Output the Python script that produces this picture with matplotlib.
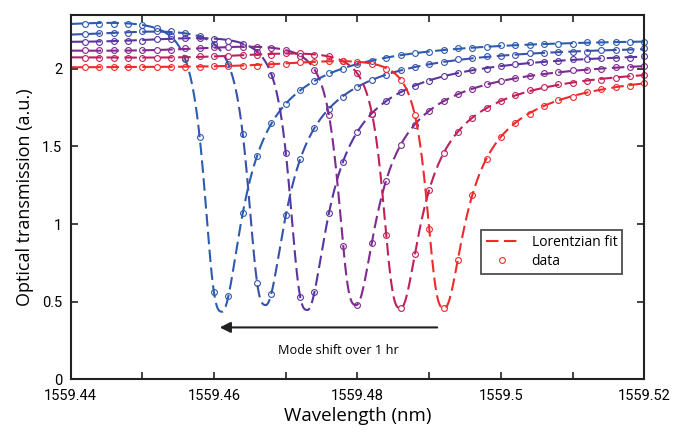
import numpy as np
import matplotlib
matplotlib.use("Agg")
import matplotlib.pyplot as plt
from matplotlib.ticker import MultipleLocator, FixedLocator
from matplotlib.lines import Line2D

plt.rcParams['font.family'] = ['Open Sans', 'DejaVu Sans']

# ---------------- values ----------------
# measured transmission samples (one list per scan, blue = first, red = last)
sample_x = [round(1559.442 + 0.002 * i, 3) for i in range(40)]
scan_1 = [2.29, 2.29, 2.29, 2.29, 2.28, 2.26, 2.21, 2.06, 1.56, 0.56, 0.54, 1.07, 1.44, 1.65, 1.77, 1.86, 1.92, 1.97, 2.00, 2.03,
          2.05, 2.07, 2.09, 2.10, 2.11, 2.12, 2.13, 2.13, 2.14, 2.15, 2.15, 2.15, 2.16, 2.16, 2.16, 2.17, 2.17, 2.17, 2.17, 2.17]
scan_2 = [2.22, 2.23, 2.23, 2.23, 2.24, 2.24, 2.24, 2.23, 2.21, 2.16, 2.03, 1.58, 0.62, 0.55, 1.06, 1.42, 1.62, 1.74, 1.82, 1.88,
          1.93, 1.96, 1.99, 2.01, 2.03, 2.04, 2.06, 2.07, 2.08, 2.08, 2.09, 2.10, 2.10, 2.11, 2.11, 2.11, 2.12, 2.12, 2.12, 2.13]
scan_3 = [2.17, 2.17, 2.18, 2.18, 2.18, 2.19, 2.19, 2.20, 2.20, 2.19, 2.18, 2.16, 2.11, 1.96, 1.46, 0.53, 0.56, 1.07, 1.40, 1.59,
          1.71, 1.79, 1.85, 1.89, 1.92, 1.95, 1.97, 1.99, 2.00, 2.02, 2.03, 2.04, 2.04, 2.05, 2.06, 2.06, 2.07, 2.07, 2.07, 2.08]
scan_4 = [2.12, 2.12, 2.12, 2.12, 2.12, 2.12, 2.12, 2.13, 2.13, 2.14, 2.14, 2.14, 2.14, 2.13, 2.12, 2.08, 1.99, 1.70, 0.86, 0.48,
          0.88, 1.28, 1.51, 1.64, 1.73, 1.79, 1.84, 1.87, 1.90, 1.92, 1.94, 1.95, 1.97, 1.98, 1.99, 1.99, 2.00, 2.01, 2.01, 2.02]
scan_5 = [2.07, 2.07, 2.07, 2.07, 2.07, 2.07, 2.07, 2.07, 2.08, 2.08, 2.08, 2.09, 2.09, 2.09, 2.10, 2.10, 2.09, 2.08, 2.05, 1.97,
          1.71, 0.93, 0.46, 0.81, 1.22, 1.46, 1.59, 1.68, 1.75, 1.79, 1.83, 1.86, 1.88, 1.90, 1.91, 1.92, 1.93, 1.94, 1.95, 1.96]
scan_6 = [2.01, 2.01, 2.01, 2.01, 2.01, 2.01, 2.01, 2.01, 2.01, 2.02, 2.02, 2.02, 2.02, 2.03, 2.03, 2.04, 2.04, 2.05, 2.05, 2.04,
          2.03, 2.00, 1.93, 1.70, 0.97, 0.46, 0.77, 1.19, 1.42, 1.56, 1.65, 1.71, 1.76, 1.80, 1.82, 1.85, 1.87, 1.88, 1.89, 1.91]
scans = [scan_1, scan_2, scan_3, scan_4, scan_5, scan_6]

# fitted resonance parameters per scan
X0 = 1559.44
centers = [1559.4611, 1559.4672, 1559.4730, 1559.4798, 1559.4860, 1559.4921]
minima = [0.436, 0.479, 0.447, 0.479, 0.458, 0.458]
base_left = [2.267, 2.2115, 2.171, 2.116, 2.073, 2.009]
base_slope = [-0.47, -0.33, -0.31, -0.25, -0.225, 0.2]
colors = ['#2a5cb0', '#3752ab', '#5a34a0', '#7e2a8e', '#c0205a', '#ee2b2b']

# shared line-shape parameters of the fit
gamma_left = 0.0027
core_width = 0.003
tail_weight = 0.4
tail_width = 0.008
tail_power = 1.3
hump_height = 0.045
hump_offset = -0.011
hump_width = 0.013

x_ticks = [1559.44, 1559.46, 1559.48, 1559.50, 1559.52]
x_tick_labels = ['1559.44', '1559.46', '1559.48', '1559.5', '1559.52']
y_ticks = [0, 0.5, 1, 1.5, 2]
y_tick_labels = ['0', '0.5', '1', '1.5', '2']


def fit_curve(x, c, ymin, bl, s):
    d = x - c
    hump = hump_height * np.exp(-((d - hump_offset) / hump_width) ** 2)
    base = bl + s * (x - X0) + hump
    depth = bl + s * (c - X0) + hump_height * np.exp(-(hump_offset / hump_width) ** 2) - ymin
    left = 1.0 / (1.0 + (np.abs(d) / gamma_left) ** 3)
    ad = np.sqrt(d ** 2 + 0.001 ** 2) - 0.001
    right = ((1 - tail_weight) / (1 + (d / core_width) ** 2)
             + tail_weight / (1 + (ad / tail_width) ** tail_power))
    r = np.where(d < 0, left, right)
    return base - depth * r


fig = plt.figure(figsize=(6.79, 4.37), dpi=100)
ax = fig.add_axes([0.104, 0.1316, 0.845, 0.834])

xf = np.linspace(1559.44, 1559.52, 1200)
for c, m, bl, s, col, ys in zip(centers, minima, base_left, base_slope, colors, scans):
    ax.plot(xf, fit_curve(xf, c, m, bl, s), color=col, lw=1.5, dashes=(6, 2.6))
    ax.plot(sample_x, ys, 'o', mfc='none', mec=col, ms=4.2, mew=0.8, clip_on=False)

ax.set_xlim(1559.44, 1559.52)
ax.set_ylim(0, 2.345)
ax.xaxis.set_major_locator(FixedLocator(x_ticks))
ax.set_xticklabels(x_tick_labels)
ax.xaxis.set_minor_locator(MultipleLocator(0.01))
ax.yaxis.set_major_locator(FixedLocator(y_ticks))
ax.set_yticklabels(y_tick_labels)
ax.tick_params(which='both', direction='in', top=True, right=True, length=5, width=1.2,
               color='#222222')
ax.tick_params(axis='x', pad=7)
ax.tick_params(axis='y', pad=6)
for lab in ax.get_xticklabels() + ax.get_yticklabels():
    lab.set_family(['Roboto', 'DejaVu Sans'])
    lab.set_fontsize(10.5)
for sp in ax.spines.values():
    sp.set_linewidth(1.5)
    sp.set_color('#222222')
ax.set_xlabel('Wavelength (nm)', fontsize=13.5, labelpad=3)
ax.set_ylabel('Optical transmission (a.u.)', fontsize=13, labelpad=6)

ax.annotate('', xy=(1559.4604, 0.335), xytext=(1559.4915, 0.335),
            arrowprops=dict(arrowstyle='-|>', color='#222222', lw=1.5, mutation_scale=16))
ax.text(1559.4773, 0.185, 'Mode shift over 1 hr', fontsize=9.2, ha='center', va='center')

h1 = Line2D([], [], color='#ee2b2b', lw=1.5, dashes=(6, 2.6))
h2 = Line2D([], [], color='#ee2b2b', marker='o', mfc='none', ms=4.2, mew=0.8, ls='none')
leg = ax.legend([h1, h2], ['Lorentzian fit', 'data'], loc='center left',
                bbox_to_anchor=(0.715, 0.35), fontsize=10, frameon=True, fancybox=False,
                edgecolor='#222222', borderpad=0.35, labelspacing=0.25, handlelength=2.4,
                handletextpad=0.9, borderaxespad=0)
leg.get_frame().set_linewidth(1.3)

fig.savefig('out.png', dpi=100)
